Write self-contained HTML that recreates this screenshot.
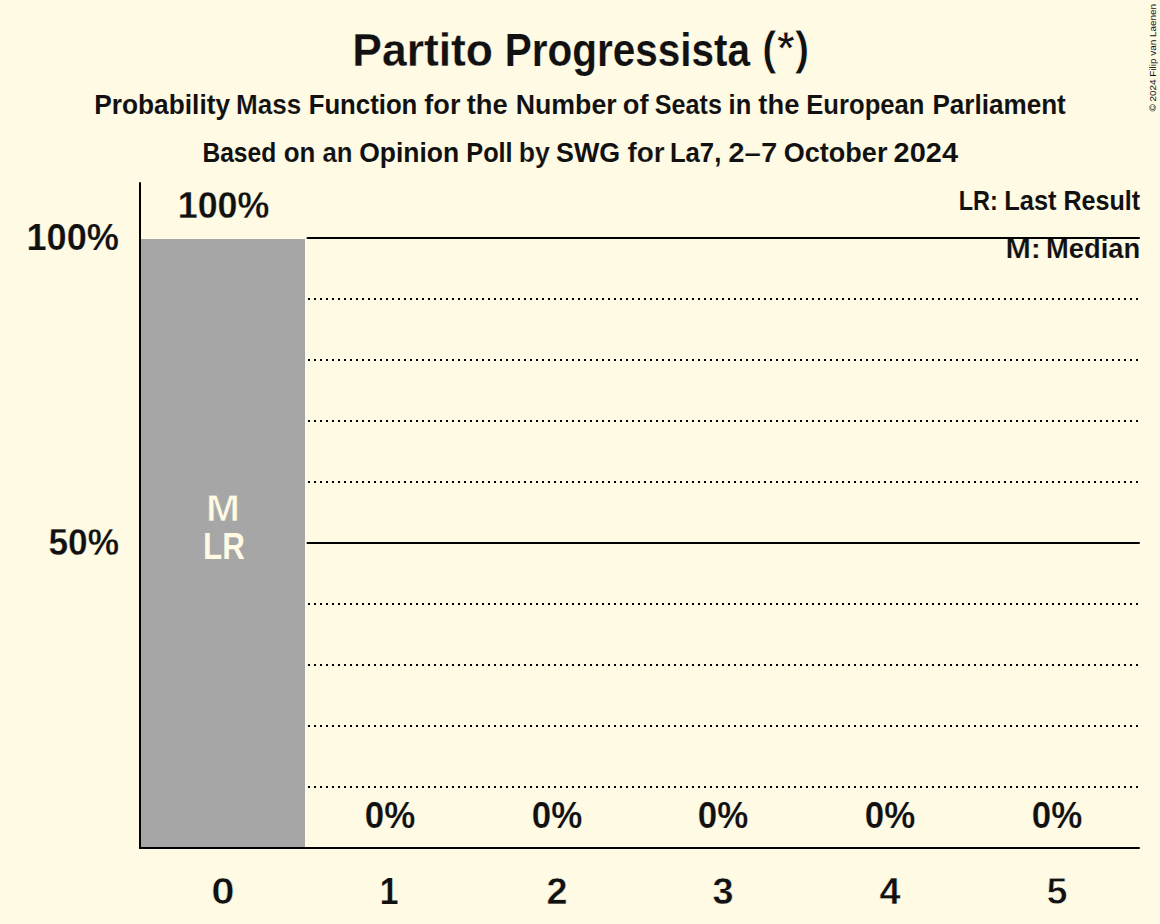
<!DOCTYPE html>
<html><head><meta charset="utf-8"><title>Partito Progressista (*)</title><style>
html,body{margin:0;padding:0;background:#FFFAE4;width:1160px;height:924px;overflow:hidden}
svg{display:block}
text{font-family:"Liberation Sans",sans-serif;font-weight:bold}
</style></head><body>
<svg width="1160" height="924" viewBox="0 0 1160 924">
<rect x="0" y="0" width="1160" height="924" fill="#FFFAE4"/>
<rect x="141" y="239" width="164" height="608" fill="#A6A6A6"/>
<g stroke="#000" stroke-width="2" stroke-dasharray="2,4">
<line x1="308" y1="299" x2="1140" y2="299"/>
<line x1="308" y1="360" x2="1140" y2="360"/>
<line x1="308" y1="421" x2="1140" y2="421"/>
<line x1="308" y1="482" x2="1140" y2="482"/>
<line x1="308" y1="604" x2="1140" y2="604"/>
<line x1="308" y1="665" x2="1140" y2="665"/>
<line x1="308" y1="726" x2="1140" y2="726"/>
<line x1="308" y1="787" x2="1140" y2="787"/>
</g>
<g stroke="#000" stroke-width="2" stroke-linecap="round">
<line x1="307.5" y1="238" x2="1139" y2="238"/>
<line x1="307.5" y1="543" x2="1139" y2="543"/>
<line x1="140" y1="183" x2="140" y2="848"/>
<line x1="140" y1="848" x2="1139" y2="848"/>
</g>
<text x="352.32" y="66.00" text-anchor="start" font-size="46.50" fill="#111" textLength="140.65" lengthAdjust="spacingAndGlyphs" stroke="#FFFAE4" stroke-width="0.26">Partito</text>
<text x="504.71" y="66.00" text-anchor="start" font-size="46.50" fill="#111" textLength="245.36" lengthAdjust="spacingAndGlyphs" stroke="#FFFAE4" stroke-width="0.17">Progressista</text>
<text x="761.87" y="63.80" text-anchor="start" font-size="46.50" fill="#111" textLength="47.70" lengthAdjust="spacingAndGlyphs" stroke="#FFFAE4" stroke-width="1.04">(*)</text>
<text x="94.26" y="114.00" text-anchor="start" font-size="28.50" fill="#111" textLength="135.83" lengthAdjust="spacingAndGlyphs" stroke="#FFFAE4" stroke-width="0.04">Probability</text>
<text x="235.95" y="114.00" text-anchor="start" font-size="28.50" fill="#111" textLength="65.20" lengthAdjust="spacingAndGlyphs" stroke="#FFFAE4" stroke-width="0.15">Mass</text>
<text x="308.66" y="114.00" text-anchor="start" font-size="28.50" fill="#111" textLength="108.69" lengthAdjust="spacingAndGlyphs">Function</text>
<text x="424.32" y="114.00" text-anchor="start" font-size="28.50" fill="#111" textLength="36.14" lengthAdjust="spacingAndGlyphs" stroke="#FFFAE4" stroke-width="0.08">for</text>
<text x="466.71" y="114.00" text-anchor="start" font-size="28.50" fill="#111" textLength="41.06" lengthAdjust="spacingAndGlyphs" stroke="#FFFAE4" stroke-width="0.07">the</text>
<text x="515.68" y="114.00" text-anchor="start" font-size="28.50" fill="#111" textLength="100.98" lengthAdjust="spacingAndGlyphs" stroke="#FFFAE4" stroke-width="0.05">Number</text>
<text x="622.73" y="114.00" text-anchor="start" font-size="28.50" fill="#111" textLength="25.76" lengthAdjust="spacingAndGlyphs" stroke="#FFFAE4" stroke-width="0.09">of</text>
<text x="654.77" y="114.00" text-anchor="start" font-size="28.50" fill="#111" textLength="67.15" lengthAdjust="spacingAndGlyphs" stroke="#FFFAE4" stroke-width="0.07">Seats</text>
<text x="728.59" y="114.00" text-anchor="start" font-size="28.50" fill="#111" textLength="22.65" lengthAdjust="spacingAndGlyphs">in</text>
<text x="758.29" y="114.00" text-anchor="start" font-size="28.50" fill="#111" textLength="41.09" lengthAdjust="spacingAndGlyphs" stroke="#FFFAE4" stroke-width="0.08">the</text>
<text x="806.26" y="114.00" text-anchor="start" font-size="28.50" fill="#111" textLength="118.23" lengthAdjust="spacingAndGlyphs" stroke="#FFFAE4" stroke-width="0.07">European</text>
<text x="932.48" y="114.00" text-anchor="start" font-size="28.50" fill="#111" textLength="133.32" lengthAdjust="spacingAndGlyphs" stroke="#FFFAE4" stroke-width="0.04">Parliament</text>
<text x="202.41" y="162.00" text-anchor="start" font-size="28.50" fill="#111" textLength="73.77" lengthAdjust="spacingAndGlyphs">Based</text>
<text x="283.79" y="162.00" text-anchor="start" font-size="28.50" fill="#111" textLength="31.60" lengthAdjust="spacingAndGlyphs" stroke="#FFFAE4" stroke-width="0.05">on</text>
<text x="322.46" y="162.00" text-anchor="start" font-size="28.50" fill="#111" textLength="30.09" lengthAdjust="spacingAndGlyphs" stroke="#FFFAE4" stroke-width="0.14">an</text>
<text x="359.27" y="162.00" text-anchor="start" font-size="28.50" fill="#111" textLength="99.91" lengthAdjust="spacingAndGlyphs">Opinion</text>
<text x="466.26" y="162.00" text-anchor="start" font-size="28.50" fill="#111" textLength="46.40" lengthAdjust="spacingAndGlyphs">Poll</text>
<text x="518.74" y="162.00" text-anchor="start" font-size="28.50" fill="#111" textLength="31.16" lengthAdjust="spacingAndGlyphs" stroke="#FFFAE4" stroke-width="0.19">by</text>
<text x="556.10" y="162.00" text-anchor="start" font-size="28.50" fill="#111" textLength="64.10" lengthAdjust="spacingAndGlyphs">SWG</text>
<text x="627.48" y="162.00" text-anchor="start" font-size="28.50" fill="#111" textLength="37.17" lengthAdjust="spacingAndGlyphs" stroke="#FFFAE4" stroke-width="0.16">for</text>
<text x="669.88" y="162.00" text-anchor="start" font-size="28.50" fill="#111" textLength="51.40" lengthAdjust="spacingAndGlyphs">La7,</text>
<text x="728.24" y="162.00" text-anchor="start" font-size="28.50" fill="#111" textLength="49.09" lengthAdjust="spacingAndGlyphs" stroke="#FFFAE4" stroke-width="0.22">2–7</text>
<text x="783.76" y="162.00" text-anchor="start" font-size="28.50" fill="#111" textLength="103.67" lengthAdjust="spacingAndGlyphs" stroke="#FFFAE4" stroke-width="0.04">October</text>
<text x="893.60" y="162.00" text-anchor="start" font-size="28.50" fill="#111" textLength="64.45" lengthAdjust="spacingAndGlyphs" stroke="#FFFAE4" stroke-width="0.05">2024</text>
<text x="958.66" y="210.00" text-anchor="start" font-size="28.50" fill="#111" textLength="39.03" lengthAdjust="spacingAndGlyphs">LR:</text>
<text x="1004.22" y="210.00" text-anchor="start" font-size="28.50" fill="#111" textLength="52.32" lengthAdjust="spacingAndGlyphs" stroke="#FFFAE4" stroke-width="0.06">Last</text>
<text x="1063.50" y="210.00" text-anchor="start" font-size="28.50" fill="#111" textLength="76.64" lengthAdjust="spacingAndGlyphs">Result</text>
<text x="1005.53" y="258.00" text-anchor="start" font-size="28.50" fill="#111" textLength="35.50" lengthAdjust="spacingAndGlyphs" stroke="#FFFAE4" stroke-width="0.23">M:</text>
<text x="1046.00" y="258.00" text-anchor="start" font-size="28.50" fill="#111" textLength="94.13" lengthAdjust="spacingAndGlyphs" stroke="#FFFAE4" stroke-width="0.12">Median</text>
<text x="119.00" y="250.00" text-anchor="end" font-size="37.83" fill="#111" textLength="92.59" lengthAdjust="spacingAndGlyphs" stroke="#FFFAE4" stroke-width="0.24">100%</text>
<text x="119.00" y="555.00" text-anchor="end" font-size="37.83" fill="#111" textLength="70.53" lengthAdjust="spacingAndGlyphs" stroke="#FFFAE4" stroke-width="0.28">50%</text>
<text x="223.50" y="218.00" text-anchor="middle" font-size="37.83" fill="#111" textLength="91.55" lengthAdjust="spacingAndGlyphs" stroke="#FFFAE4" stroke-width="0.26">100%</text>
<text x="223.00" y="521.00" text-anchor="middle" font-size="37.83" fill="#FFFAE4" textLength="33.94" lengthAdjust="spacingAndGlyphs" stroke="#A6A6A6" stroke-width="0.75">M</text>
<text x="224.00" y="559.00" text-anchor="middle" font-size="37.83" fill="#FFFAE4" textLength="41.85" lengthAdjust="spacingAndGlyphs" stroke="#A6A6A6" stroke-width="0.05">LR</text>
<text x="390.00" y="828.00" text-anchor="middle" font-size="37.83" fill="#111" textLength="50.48" lengthAdjust="spacingAndGlyphs" stroke="#FFFAE4" stroke-width="0.20">0%</text>
<text x="557.00" y="828.00" text-anchor="middle" font-size="37.83" fill="#111" textLength="50.48" lengthAdjust="spacingAndGlyphs" stroke="#FFFAE4" stroke-width="0.20">0%</text>
<text x="723.00" y="828.00" text-anchor="middle" font-size="37.83" fill="#111" textLength="50.48" lengthAdjust="spacingAndGlyphs" stroke="#FFFAE4" stroke-width="0.20">0%</text>
<text x="890.00" y="828.00" text-anchor="middle" font-size="37.83" fill="#111" textLength="50.48" lengthAdjust="spacingAndGlyphs" stroke="#FFFAE4" stroke-width="0.20">0%</text>
<text x="1057.00" y="828.00" text-anchor="middle" font-size="37.83" fill="#111" textLength="50.48" lengthAdjust="spacingAndGlyphs" stroke="#FFFAE4" stroke-width="0.20">0%</text>
<text x="223.00" y="904.00" text-anchor="middle" font-size="37.83" fill="#111" textLength="23.39" lengthAdjust="spacingAndGlyphs" stroke="#FFFAE4" stroke-width="0.62">0</text>
<text x="389.00" y="904.00" text-anchor="middle" font-size="37.83" fill="#111" textLength="18.71" lengthAdjust="spacingAndGlyphs" stroke="#FFFAE4" stroke-width="0.17">1</text>
<text x="557.00" y="904.00" text-anchor="middle" font-size="37.83" fill="#111" textLength="21.05" lengthAdjust="spacingAndGlyphs" stroke="#FFFAE4" stroke-width="0.47">2</text>
<text x="723.00" y="904.00" text-anchor="middle" font-size="37.83" fill="#111" textLength="21.05" lengthAdjust="spacingAndGlyphs" stroke="#FFFAE4" stroke-width="0.43">3</text>
<text x="890.00" y="904.00" text-anchor="middle" font-size="37.83" fill="#111" textLength="21.05" lengthAdjust="spacingAndGlyphs" stroke="#FFFAE4" stroke-width="0.44">4</text>
<text x="1057.00" y="904.00" text-anchor="middle" font-size="37.83" fill="#111" textLength="21.11" lengthAdjust="spacingAndGlyphs" stroke="#FFFAE4" stroke-width="0.76">5</text>
<text transform="translate(1156,111.5) rotate(-90)" font-size="9.6" textLength="107.6" lengthAdjust="spacingAndGlyphs" fill="#111" style="font-weight:normal">© 2024 Filip van Laenen</text>
</svg>
</body></html>
